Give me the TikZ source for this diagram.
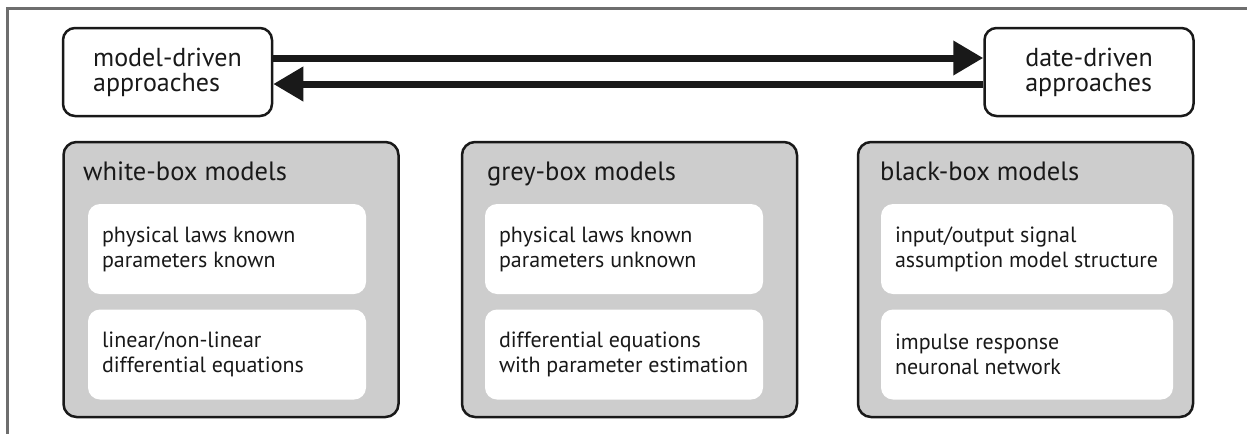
\documentclass[tikz,border=0pt]{standalone}
\usepackage{fontspec}
\setmainfont{PT Sans}
\usetikzlibrary{arrows.meta}
\definecolor{boxgray}{RGB}{205,205,205}
\definecolor{framegray}{RGB}{110,110,110}
\definecolor{ink}{RGB}{25,25,25}
\tikzset{
  approach/.style={draw=ink, line width=2.5pt, rounded corners=12pt, fill=white,
    minimum width=209pt, minimum height=88pt, align=left, inner sep=0pt,
    font=\fontsize{26}{25}\selectfont, text=ink},
  modelbox/.style={draw=ink, line width=2.5pt, rounded corners=13pt, fill=boxgray,
    minimum width=335pt, minimum height=275pt, inner sep=0pt},
  innerbox/.style={fill=white, rounded corners=12pt, minimum height=90pt, inner sep=0pt},
  innertext/.style={anchor=west, inner sep=0pt, align=left, text=ink,
    font=\fontsize{22}{25}\selectfont},
  boxtitle/.style={anchor=base west, inner sep=0pt, text=ink,
    font=\fontsize{26.5}{28}\selectfont},
  flow/.style={draw=ink, line width=7pt, -{Triangle[length=30pt,width=33pt]}}
}
\begin{document}
\begin{tikzpicture}[x=1pt,y=-1pt]
\useasboundingbox (0,0) rectangle (1247,434);
% partial frame
\coordinate (ftr) at (1247,8.5);
\coordinate (ftl) at (7,8.5);
\coordinate (fbl) at (7,434);
\draw[framegray, line width=3pt] (ftr) -- (ftl) -- (fbl);

% top approaches
\node[approach] (model) at (167.5,72) {model-driven\\approaches};
\node[approach] (date) at (1089,72) {date-driven\\approaches};
\draw[flow] ([yshift=14pt]model.east) -- ([yshift=14pt]date.west);
\draw[flow] ([yshift=-12pt]date.west) -- ([yshift=-12pt]model.east);

% big boxes
\node[modelbox] (white) at (231,279.5) {};
\node[modelbox] (grey) at (629.5,279.5) {};
\node[modelbox] (black) at (1025.5,279.5) {};

\node[boxtitle] (whitet) at (83,180) {white-box models};
\node[boxtitle] (greyt) at (487,180) {grey-box models};
\node[boxtitle] (blackt) at (880,180) {black-box models};

% inner boxes
\node[innerbox, minimum width=278pt] (w1) at (227,249) {};
\node[innerbox, minimum width=278pt] (w2) at (227,354.5) {};
\node[innerbox, minimum width=278pt] (g1) at (624,249) {};
\node[innerbox, minimum width=278pt] (g2) at (624,354.5) {};
\node[innerbox, minimum width=292pt] (b1) at (1027,249) {};
\node[innerbox, minimum width=292pt] (b2) at (1027,354.5) {};

\node[innertext] (w1t) at ([xshift=14pt]w1.west) {physical laws known\\parameters known};
\node[innertext] (w2t) at ([xshift=14pt]w2.west) {linear/non-linear\\differential equations};
\node[innertext] (g1t) at ([xshift=14pt]g1.west) {physical laws known\\parameters unknown};
\node[innertext] (g2t) at ([xshift=14pt]g2.west) {differential equations\\with parameter estimation};
\node[innertext] (b1t) at ([xshift=14pt]b1.west) {input/output signal\\assumption model structure};
\node[innertext] (b2t) at ([xshift=14pt]b2.west) {impulse response\\neuronal network};
\end{tikzpicture}
\end{document}
